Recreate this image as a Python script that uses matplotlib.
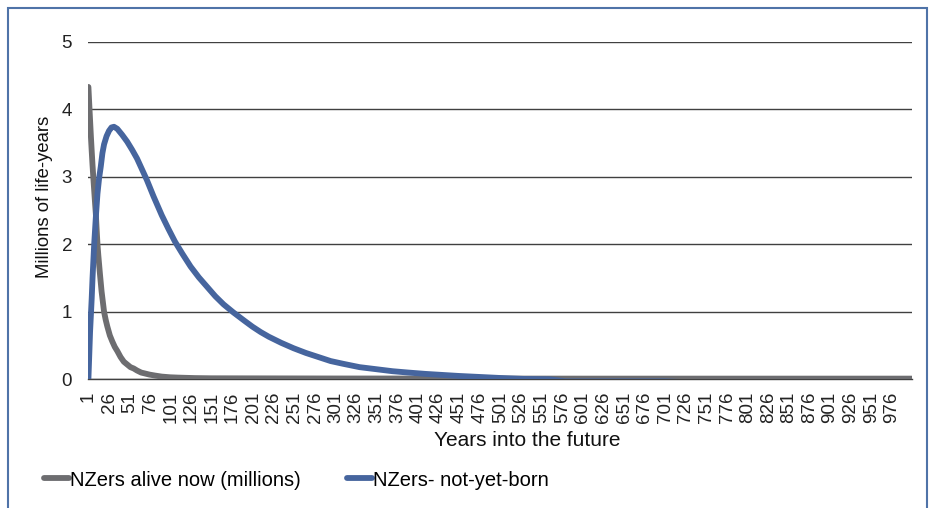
import matplotlib
matplotlib.use("Agg")
import matplotlib.pyplot as plt
from matplotlib.patches import Rectangle

# Values (year index, millions of life-years)
alive_years = [1, 2, 3, 4, 5, 6, 7, 8, 9, 10, 11, 12, 13, 14, 15, 16, 17, 18, 19, 20,
               22, 24, 27, 30, 33, 36, 40, 44, 48, 52, 56, 60, 65, 70, 75, 82, 90,
               100, 110, 130, 150, 300, 600, 1000]
alive_vals = [4.33, 4.08, 3.84, 3.6, 3.38, 3.17, 2.98, 2.8, 2.62, 2.45, 2.22, 2.0,
              1.84, 1.7, 1.56, 1.43, 1.3, 1.2, 1.1, 1.0, 0.88, 0.78, 0.65, 0.56, 0.48,
              0.42, 0.33, 0.26, 0.22, 0.18, 0.16, 0.13, 0.1, 0.085, 0.07, 0.055, 0.04,
              0.03, 0.025, 0.018, 0.015, 0.012, 0.01, 0.01]

unborn_years = [1, 2, 3, 4, 5, 6, 7, 8, 10, 12, 14, 16, 18, 20, 23, 26, 29, 32, 36,
                42, 48, 54, 60, 66, 72, 80, 90, 98, 106, 115, 125, 135, 145, 155, 165,
                177, 190, 200, 210, 220, 235, 250, 265, 280, 295, 310, 330, 350, 370,
                389, 410, 430, 450, 475, 500, 530, 560, 580, 700, 720, 1000]
unborn_vals = [0.0, 0.35, 0.7, 0.95, 1.2, 1.5, 1.75, 2.0, 2.4, 2.75, 2.98, 3.15, 3.35,
               3.48, 3.6, 3.68, 3.73, 3.74, 3.71, 3.62, 3.52, 3.40, 3.27, 3.11, 2.95,
               2.71, 2.43, 2.23, 2.04, 1.86, 1.67, 1.51, 1.37, 1.23, 1.11, 0.99, 0.87,
               0.78, 0.70, 0.63, 0.54, 0.46, 0.39, 0.33, 0.27, 0.23, 0.18, 0.15, 0.12,
               0.10, 0.08, 0.065, 0.05, 0.035, 0.02, 0.005, 0.0, -0.03, -0.03, -0.04,
               -0.04]

tick_labels = [str(v) for v in range(1, 1000, 25)]

grey = "#6d6d70"
blue = "#46659e"
grid_col = "#404040"

plt.rcParams["font.family"] = ["Liberation Sans", "DejaVu Sans"]

W, H = 932, 508
fig = plt.figure(figsize=(W / 100, H / 100), dpi=100)
ax = fig.add_axes([88 / W, 1 - 379.3 / H, 824 / W, (379.3 - 41.7) / H])

ax.plot(alive_years, alive_vals, color=grey, lw=4.2, solid_capstyle="round",
        solid_joinstyle="round", label="NZers alive now (millions)")
ax.plot(unborn_years, unborn_vals, color=blue, lw=4.2, solid_capstyle="round",
        solid_joinstyle="round", label="NZers- not-yet-born")

ax.set_xlim(0.5, 1000.5)
ax.set_ylim(0, 5)
ax.set_yticks(range(0, 6))
ax.yaxis.grid(True, color=grid_col, lw=1)
ax.set_axisbelow(True)
for s in ["top", "right", "left"]:
    ax.spines[s].set_visible(False)
ax.spines["bottom"].set_color(grid_col)
ax.spines["bottom"].set_linewidth(1)
ax.spines["bottom"].set_zorder(0.5)

ax.set_xticks(range(1, 1000, 25))
ax.set_xticklabels(tick_labels, rotation=90)
ax.tick_params(axis="x", length=0, pad=9, labelsize=13.5, colors="#222222")
ax.tick_params(axis="y", length=0, pad=11.5, labelsize=13.5, colors="#222222")

fig.text(45 / W, 1 - 197 / H, "Millions of life-years", fontsize=13.3,
         color="#111111", rotation=90, ha="center", va="center")
fig.text(527 / W, 1 - 440 / H, "Years into the future", fontsize=15,
         color="#111111", ha="center", va="center")

fig.legend(loc="center left", bbox_to_anchor=(44 / W, 1 - 480 / H), ncol=2,
           frameon=False, fontsize=14.5, handlelength=1.25, handletextpad=0.05,
           columnspacing=2.3, borderpad=0, borderaxespad=0)

# chart frame
fig.add_artist(Rectangle((8 / W, -0.05), 919 / W, 1 - 8 / H + 0.05,
                         transform=fig.transFigure, fill=False,
                         edgecolor="#4f73a8", lw=1.5, clip_on=False))

fig.savefig("out.png", dpi=100)
